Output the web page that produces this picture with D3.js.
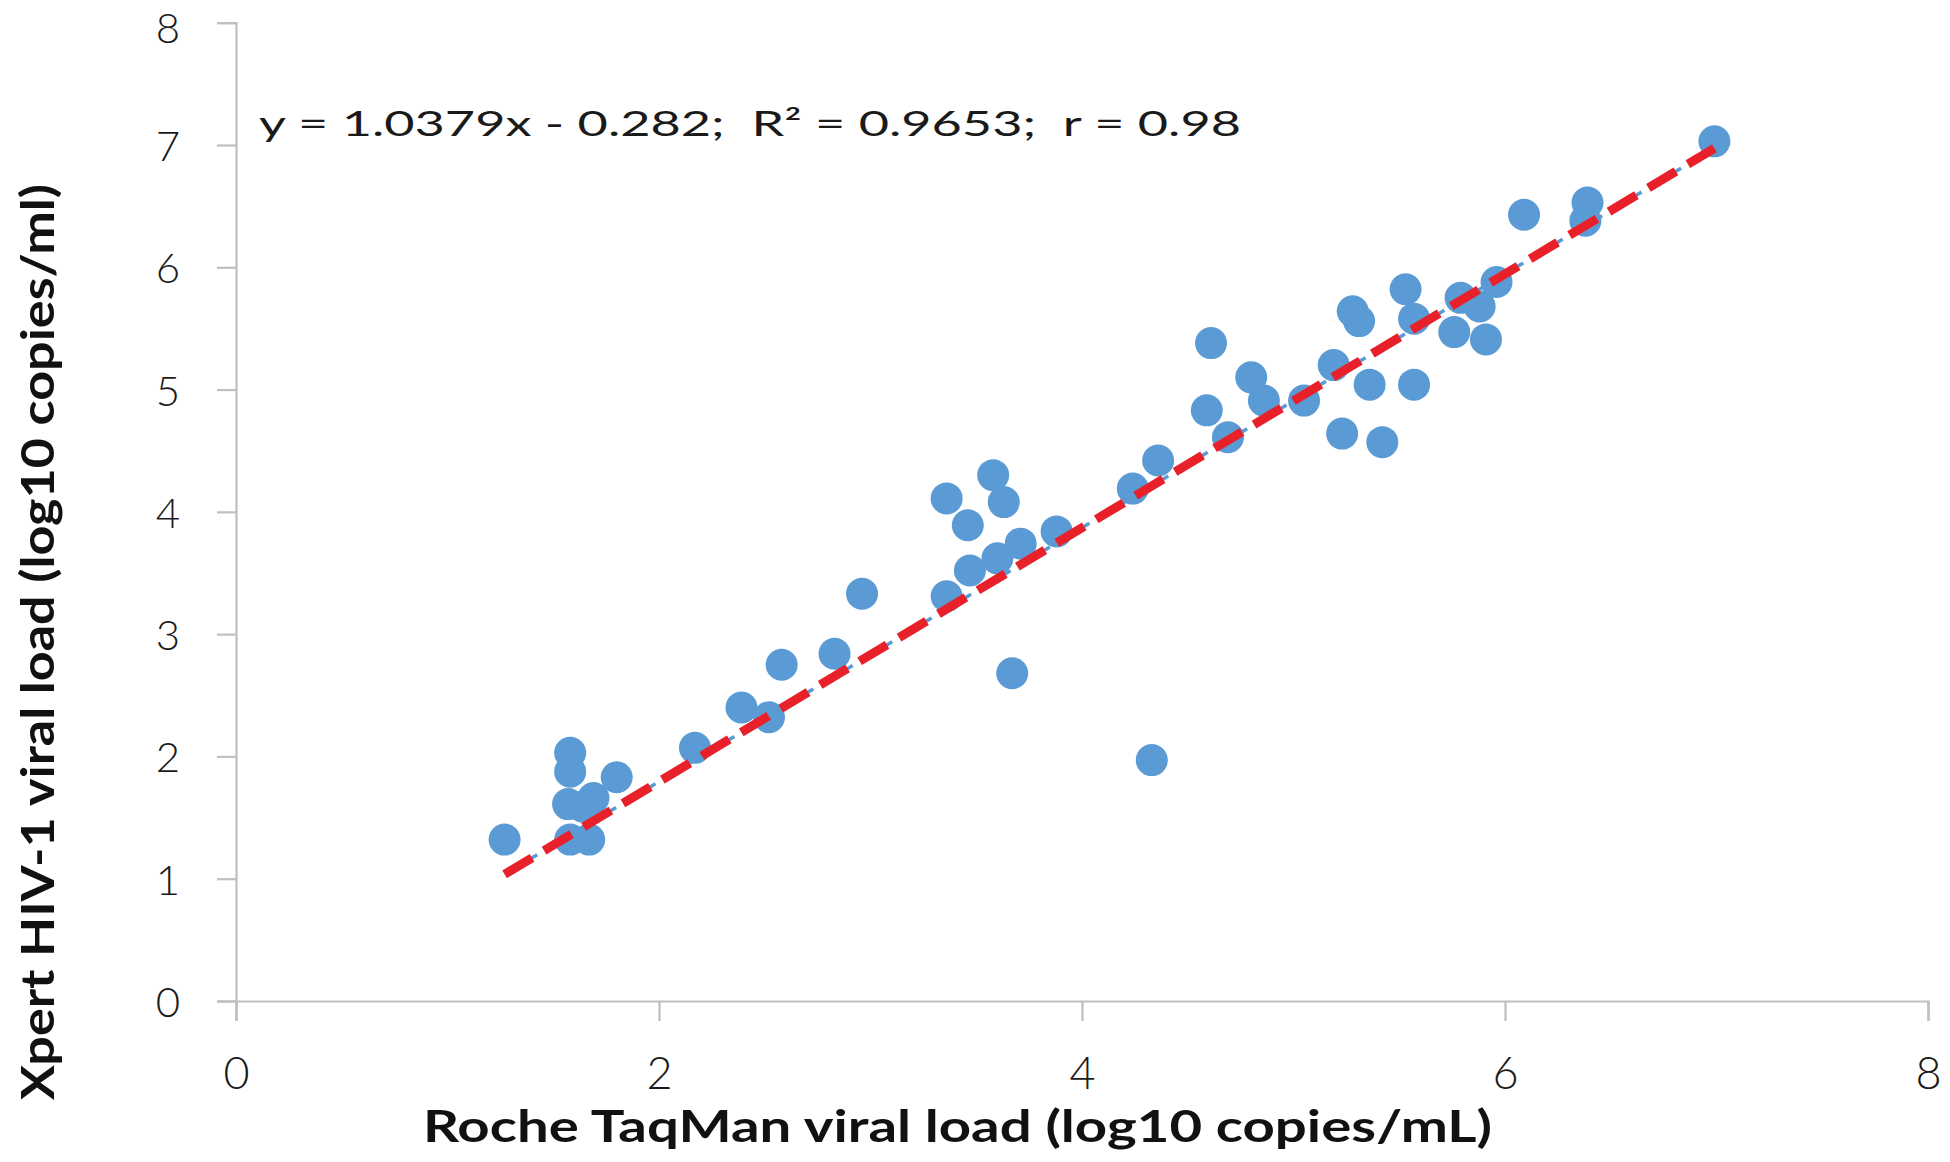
<!DOCTYPE html>
<html>
<head>
<meta charset="utf-8">
<script src="https://cdn.jsdelivr.net/npm/d3@7"></script>
<style>
  html, body { margin: 0; padding: 0; background: #ffffff; }
  svg { display: block; }
</style>
</head>
<body>
<svg id="chart" width="1950" height="1162"></svg>
<script>
// ---- Data ----
const rocheTaqMan = [1.27, 1.58, 1.58, 1.57, 1.64, 1.69, 1.80, 1.58, 1.67, 2.17,
  2.39, 2.52, 2.58, 2.83, 2.96, 3.36, 3.36, 3.46, 3.47, 3.58,
  3.63, 3.60, 3.67, 3.71, 3.88, 4.24, 4.33, 4.36, 4.59, 4.61,
  4.69, 4.80, 4.86, 5.05, 5.19, 5.23, 5.28, 5.31, 5.36, 5.42,
  5.53, 5.57, 5.57, 5.76, 5.79, 5.88, 5.91, 5.96, 6.09, 6.39,
  6.38, 6.99];
const xpertHIV = [1.32, 2.03, 1.875, 1.61, 1.59, 1.66, 1.83, 1.32, 1.32, 2.07,
  2.40, 2.32, 2.75, 2.84, 3.33, 3.31, 4.11, 3.89, 3.52, 4.30,
  4.08, 3.62, 2.68, 3.74, 3.84, 4.19, 1.97, 4.42, 4.83, 5.38,
  4.61, 5.10, 4.91, 4.91, 5.20, 4.64, 5.64, 5.56, 5.04, 4.57,
  5.82, 5.58, 5.04, 5.47, 5.75, 5.68, 5.41, 5.88, 6.43, 6.53,
  6.38, 7.03];
const xTicks = [0, 2, 4, 6, 8];
const yTicks = [0, 1, 2, 3, 4, 5, 6, 7, 8];
const trendSlope = 1.0379;
const trendIntercept = -0.282;
const equationText = "y = 1.0379x - 0.282;  R\u00B2 = 0.9653;  r = 0.98";
const xTitle = "Roche TaqMan viral load (log10 copies/mL)";
const yTitle = "Xpert HIV-1 viral load (log10 copies/ml)";

// ---- Layout ----
const svg = d3.select("#chart");
const x = d3.scaleLinear().domain([0, 8]).range([236, 1928]);
const y = d3.scaleLinear().domain([0, 8]).range([1001, 22.7]);
const axisColor = "#bfbfbf";
const font = "Lato, 'Open Sans', 'Liberation Sans', sans-serif";

// Axes
const xAxis = svg.append("g")
  .attr("transform", `translate(0,${y(0)})`)
  .call(d3.axisBottom(x).tickValues(xTicks).tickSize(20).tickPadding(12).tickFormat(d3.format("d")));
const yAxis = svg.append("g")
  .attr("transform", `translate(${x(0)},0)`)
  .call(d3.axisLeft(y).tickValues(yTicks).tickSize(19).tickPadding(37).tickFormat(d3.format("d")));

[xAxis, yAxis].forEach(g => {
  g.selectAll("path.domain").attr("stroke", axisColor).attr("stroke-width", 2.2);
  g.selectAll(".tick line").attr("stroke", axisColor).attr("stroke-width", 2.2);
  g.selectAll(".tick text")
    .attr("fill", "#1a1a1a")
    .style("font-family", font)
    .style("font-weight", "300");
});
xAxis.selectAll(".tick text").style("font-size", "45px")
  .attr("dy", null).attr("y", 88).attr("dominant-baseline", "alphabetic");
yAxis.selectAll(".tick text").style("font-size", "42px")
  .attr("dy", null)
  .attr("y", d => d === 8 ? 20 : 15.5)
  .attr("dominant-baseline", "alphabetic");

// Trendline (thin series-coloured line beneath, red dashed on top)
const xMin = d3.min(rocheTaqMan), xMax = d3.max(rocheTaqMan);
const trendPts = [xMin, xMax].map(v => [v, trendSlope * v + trendIntercept]);
const line = d3.line().x(d => x(d[0])).y(d => y(d[1]));

// Points
svg.append("g")
  .selectAll("circle")
  .data(rocheTaqMan.map((v, i) => [v, xpertHIV[i]]))
  .join("circle")
  .attr("cx", d => x(d[0]))
  .attr("cy", d => y(d[1]))
  .attr("r", 16)
  .attr("fill", "#5b9bd5");

svg.append("path")
  .datum(trendPts)
  .attr("d", line)
  .attr("fill", "none")
  .attr("stroke", "#5b9bd5")
  .attr("stroke-width", 3.5)
  .attr("stroke-dasharray", "36 10")
  .attr("stroke-dashoffset", -2);

svg.append("path")
  .datum(trendPts)
  .attr("d", line)
  .attr("fill", "none")
  .attr("stroke", "#e8202a")
  .attr("stroke-width", 9)
  .attr("stroke-dasharray", "32 14");

// Equation
svg.append("text")
  .attr("x", 259)
  .attr("y", 136)
  .attr("textLength", 982)
  .attr("lengthAdjust", "spacingAndGlyphs")
  .attr("fill", "#1a1a1a")
  .style("white-space", "pre")
  .attr("xml:space", "preserve")
  .style("font-family", font)
  .style("font-size", "34px")
  .style("font-weight", "400")
  .text(equationText);

// Axis titles
svg.append("text")
  .attr("x", 957.5)
  .attr("y", 1142)
  .attr("text-anchor", "middle")
  .attr("textLength", 1069)
  .attr("lengthAdjust", "spacingAndGlyphs")
  .attr("fill", "#111")
  .style("font-family", font)
  .style("font-size", "44px")
  .style("font-weight", "700")
  .text(xTitle);

svg.append("text")
  .attr("transform", "translate(54,642) rotate(-90)")
  .attr("text-anchor", "middle")
  .attr("textLength", 916)
  .attr("lengthAdjust", "spacingAndGlyphs")
  .attr("fill", "#111")
  .style("font-family", font)
  .style("font-size", "45px")
  .style("font-weight", "700")
  .text(yTitle);
</script>
</body>
</html>
